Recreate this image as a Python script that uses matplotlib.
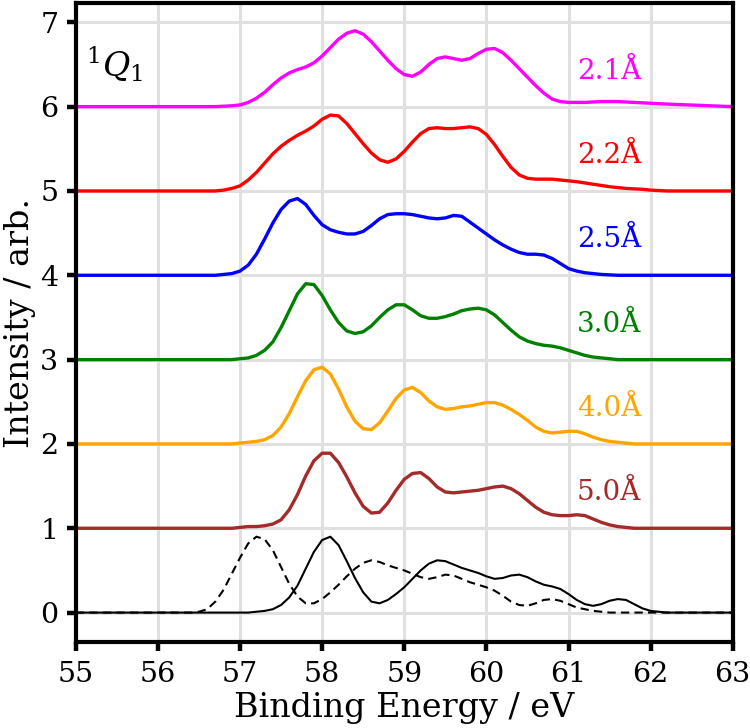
import numpy as np
import matplotlib
matplotlib.use("Agg")
import matplotlib.pyplot as plt

plt.rcParams['font.family'] = ['DejaVu Serif']
plt.rcParams['mathtext.fontset'] = 'dejavuserif'

# binding energy grid (eV), 56.4 ... 62.2 in 0.1 steps, plus the axis ends
energy = [55.0] + list(np.round(np.arange(56.4, 62.25, 0.1), 1)) + [63.0]

# spectra (without vertical offset)
s_21 = [0, 0, 0, 0, 0.005, 0.01, 0.02, 0.05, 0.10, 0.17,
        0.26, 0.34, 0.40, 0.44, 0.47, 0.52, 0.60, 0.70, 0.80, 0.87,
        0.90, 0.86, 0.77, 0.66, 0.55, 0.45, 0.38, 0.36, 0.41, 0.50,
        0.57, 0.59, 0.57, 0.55, 0.57, 0.63, 0.68, 0.69, 0.64, 0.55,
        0.45, 0.35, 0.25, 0.16, 0.09, 0.06, 0.05, 0.05, 0.05, 0.055,
        0.06, 0.06, 0.06, 0.055, 0.05, 0.045, 0.04, 0.035, 0.03]
s_22 = [0, 0, 0, 0, 0.01, 0.03, 0.06, 0.13, 0.22, 0.33,
        0.44, 0.53, 0.60, 0.66, 0.71, 0.77, 0.85, 0.90, 0.89, 0.80,
        0.68, 0.56, 0.45, 0.37, 0.34, 0.38, 0.47, 0.58, 0.68, 0.74,
        0.75, 0.74, 0.74, 0.75, 0.76, 0.74, 0.67, 0.55, 0.41, 0.28,
        0.19, 0.15, 0.14, 0.14, 0.14, 0.13, 0.12, 0.11, 0.095, 0.08,
        0.065, 0.05, 0.04, 0.03, 0.025, 0.02, 0.01, 0.005, 0]
s_25 = [0, 0, 0, 0, 0.01, 0.02, 0.05, 0.12, 0.25, 0.43,
        0.62, 0.78, 0.88, 0.91, 0.84, 0.71, 0.60, 0.54, 0.51, 0.49,
        0.49, 0.52, 0.59, 0.67, 0.72, 0.73, 0.73, 0.72, 0.70, 0.68,
        0.67, 0.68, 0.71, 0.70, 0.63, 0.56, 0.49, 0.42, 0.36, 0.31,
        0.27, 0.25, 0.25, 0.24, 0.20, 0.14, 0.08, 0.05, 0.03, 0.02,
        0.01, 0.005, 0, 0, 0, 0, 0, 0, 0]
s_30 = [0, 0, 0, 0, 0, 0, 0.01, 0.02, 0.05, 0.11,
        0.21, 0.38, 0.58, 0.78, 0.90, 0.89, 0.76, 0.59, 0.44, 0.34,
        0.31, 0.33, 0.40, 0.50, 0.59, 0.65, 0.65, 0.59, 0.52, 0.49,
        0.49, 0.51, 0.54, 0.58, 0.60, 0.61, 0.59, 0.53, 0.44, 0.35,
        0.27, 0.22, 0.19, 0.17, 0.16, 0.14, 0.11, 0.08, 0.05, 0.03,
        0.02, 0.01, 0, 0, 0, 0, 0, 0, 0]
s_40 = [0, 0, 0, 0, 0, 0, 0.01, 0.02, 0.03, 0.05,
        0.10, 0.20, 0.36, 0.56, 0.75, 0.88, 0.91, 0.83, 0.65, 0.44,
        0.27, 0.18, 0.17, 0.25, 0.39, 0.54, 0.64, 0.67, 0.61, 0.51,
        0.44, 0.41, 0.42, 0.44, 0.45, 0.47, 0.49, 0.49, 0.46, 0.41,
        0.35, 0.28, 0.20, 0.15, 0.13, 0.14, 0.15, 0.15, 0.12, 0.08,
        0.05, 0.03, 0.02, 0.01, 0, 0, 0, 0, 0]
s_50 = [0, 0, 0, 0, 0, 0, 0.01, 0.02, 0.02, 0.03,
        0.05, 0.10, 0.22, 0.40, 0.62, 0.80, 0.89, 0.89, 0.78, 0.61,
        0.42, 0.26, 0.18, 0.19, 0.30, 0.45, 0.58, 0.65, 0.66, 0.59,
        0.49, 0.43, 0.42, 0.43, 0.44, 0.45, 0.47, 0.49, 0.50, 0.47,
        0.41, 0.33, 0.25, 0.19, 0.16, 0.15, 0.15, 0.16, 0.15, 0.11,
        0.07, 0.04, 0.02, 0.01, 0, 0, 0, 0, 0]
ref_solid = [0, 0, 0, 0, 0, 0, 0, 0, 0.01, 0.02,
             0.04, 0.09, 0.18, 0.32, 0.52, 0.72, 0.86, 0.90, 0.80, 0.61,
             0.41, 0.24, 0.13, 0.11, 0.15, 0.22, 0.30, 0.40, 0.50, 0.58,
             0.62, 0.61, 0.57, 0.53, 0.50, 0.47, 0.43, 0.40, 0.41, 0.44,
             0.45, 0.42, 0.37, 0.33, 0.31, 0.28, 0.22, 0.15, 0.10, 0.08,
             0.10, 0.14, 0.16, 0.15, 0.10, 0.05, 0.02, 0.01, 0]
ref_dashed = [0, 0.01, 0.04, 0.13, 0.27, 0.46, 0.65, 0.82, 0.90, 0.87,
              0.74, 0.54, 0.34, 0.19, 0.11, 0.11, 0.16, 0.24, 0.33, 0.43,
              0.52, 0.59, 0.62, 0.60, 0.56, 0.53, 0.50, 0.46, 0.42, 0.40,
              0.42, 0.45, 0.44, 0.40, 0.36, 0.33, 0.30, 0.26, 0.20, 0.13,
              0.09, 0.08, 0.11, 0.15, 0.16, 0.14, 0.10, 0.06, 0.04, 0.02,
              0.01, 0, 0, 0, 0, 0, 0, 0, 0]

spectra = [s_50, s_40, s_30, s_25, s_22, s_21]
labels = ["5.0Å", "4.0Å", "3.0Å", "2.5Å", "2.2Å", "2.1Å"]
colors = ["brown", "orange", "green", "blue", "red", "magenta"]
offsets = [1, 2, 3, 4, 5, 6]


def pad(s):
    return [0.0] + list(s) + [0.0]


fig = plt.figure(figsize=(7.5, 7.28), dpi=100)
ax = fig.add_axes([0.101, 0.118, 0.876, 0.878])

ax.plot(energy, pad(ref_dashed), color="black", lw=1.5, ls=(0, (4, 2.5)))
ax.plot(energy, pad(ref_solid), color="black", lw=1.5)
for s, lab, c, off in zip(spectra, labels, colors, offsets):
    ax.plot(energy, np.array(pad(s)) + off, color=c, lw=2.4,
            solid_joinstyle="round")
    ax.text(61.1, off + 0.42, lab, color=c, fontsize=20, va="center", ha="left")

ax.text(55.12, 6.5, r"$^{1}Q_{1}$", fontsize=24, va="center", ha="left")

ax.set_xlim(55, 63)
ax.set_ylim(-0.35, 7.23)
ax.set_xticks(range(55, 64))
ax.set_yticks(range(0, 8))
ax.grid(True, color="#e0e0e0", lw=2.2)
ax.set_axisbelow(True)
ax.tick_params(labelsize=20.5, width=3.2, length=6.5, direction="out")
ax.tick_params(axis="x", pad=7)
ax.tick_params(axis="y", pad=6)
for sp in ax.spines.values():
    sp.set_linewidth(3)

ax.set_xlabel("Binding Energy / eV", fontsize=24, labelpad=3)
ax.set_ylabel("Intensity / arb.", fontsize=24, labelpad=3)

plt.savefig("out.png")
